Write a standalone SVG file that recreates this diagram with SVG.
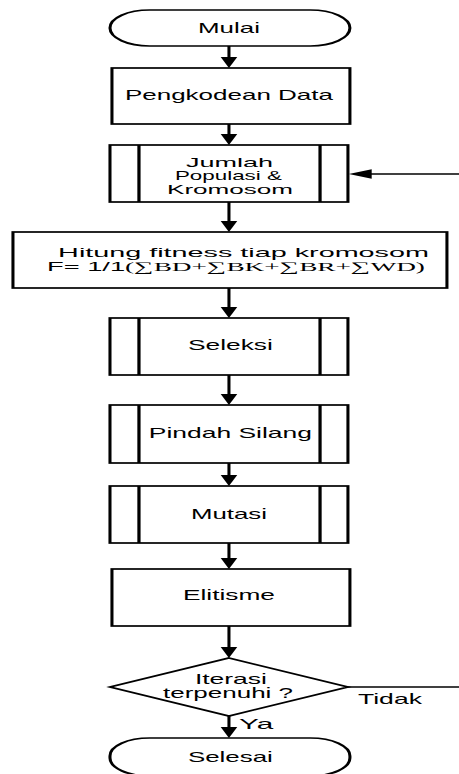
<svg xmlns="http://www.w3.org/2000/svg" xmlns:xlink="http://www.w3.org/1999/xlink" width="459" height="774" viewBox="0 0 459 774">
  <style>
    .shape { fill: #ffffff; stroke: #000000; stroke-width: 1.7; }
    .inner { fill: none; stroke: #000000; stroke-width: 1.8; }
    .shaft { fill: none; stroke: #000000; stroke-width: 1.7; }
    .thin { fill: none; stroke: #000000; stroke-width: 1.4; }
    .head { fill: #000000; stroke: none; }
    .lbl { font-family: "Liberation Sans", Arial, sans-serif; font-size: 14px; fill: #000000; text-anchor: middle; }
    .sm { font-size: 13px; }
    .math { font-family: "Liberation Serif", "DejaVu Serif", serif; }
  </style>
  <defs>
    <path id="hd" class="head" d="M-4.6,-11 L4.6,-11 L0,0 Z"/>
  </defs>
  <rect width="459" height="774" fill="#ffffff"/>
  <!-- The flowchart is drawn in a horizontally stretched frame (x * 1.8) -->
  <g transform="scale(1.8 1)">
    <g id="connectors">
      <line class="shaft" x1="127.2" y1="46" x2="127.2" y2="58"/>
      <use xlink:href="#hd" x="127.2" y="68"/>
      <line class="shaft" x1="127.2" y1="124" x2="127.2" y2="135"/>
      <use xlink:href="#hd" x="127.2" y="145"/>
      <line class="shaft" x1="127.2" y1="202" x2="127.2" y2="222"/>
      <use xlink:href="#hd" x="127.2" y="232"/>
      <line class="shaft" x1="127.2" y1="288" x2="127.2" y2="308"/>
      <use xlink:href="#hd" x="127.2" y="318"/>
      <line class="shaft" x1="127.2" y1="375" x2="127.2" y2="395"/>
      <use xlink:href="#hd" x="127.2" y="405"/>
      <line class="shaft" x1="127.2" y1="463" x2="127.2" y2="476"/>
      <use xlink:href="#hd" x="127.2" y="486"/>
      <line class="shaft" x1="127.2" y1="543" x2="127.2" y2="559"/>
      <use xlink:href="#hd" x="127.2" y="569"/>
      <line class="shaft" x1="127.2" y1="626" x2="127.2" y2="648"/>
      <use xlink:href="#hd" x="127.2" y="658"/>
      <line class="shaft" x1="127.2" y1="716" x2="127.2" y2="728"/>
      <use xlink:href="#hd" x="127.2" y="738"/>
      <!-- loop back: "Tidak" branch returns to population step -->
      <line class="thin" x1="193.3" y1="687" x2="255" y2="687"/>
      <line class="thin" x1="205" y1="174" x2="255" y2="174"/>
      <polygon class="head" points="193.8,174 206.5,169.3 206.5,178.7"/>
      <text class="lbl" x="132.8" y="729" textLength="19" lengthAdjust="spacingAndGlyphs" style="text-anchor:start">Ya</text>
      <text class="lbl" x="198.9" y="704" textLength="35.5" lengthAdjust="spacingAndGlyphs" style="text-anchor:start">Tidak</text>
    </g>

    <g id="mulai">
      <rect class="shape" x="61.1" y="10" width="133.3" height="36" rx="22" ry="18"/>
      <text class="lbl" x="127.2" y="33" textLength="34.4" lengthAdjust="spacingAndGlyphs">Mulai</text>
    </g>

    <g id="pengkodean">
      <rect class="shape" x="62.2" y="68" width="132.2" height="56"/>
      <text class="lbl" x="127.2" y="100" textLength="115.6" lengthAdjust="spacingAndGlyphs">Pengkodean Data</text>
    </g>

    <g id="populasi">
      <rect class="shape" x="61.1" y="145" width="132.2" height="57"/>
      <line class="inner" x1="77.2" y1="145" x2="77.2" y2="202"/>
      <line class="inner" x1="177.8" y1="145" x2="177.8" y2="202"/>
      <text class="lbl sm" x="127.5" y="167" textLength="48.3" lengthAdjust="spacingAndGlyphs">Jumlah</text>
      <text class="lbl sm" x="126.9" y="180.5" textLength="59.4" lengthAdjust="spacingAndGlyphs">Populasi &amp;</text>
      <text class="lbl sm" x="127.8" y="194" textLength="70" lengthAdjust="spacingAndGlyphs">Kromosom</text>
    </g>

    <g id="fitness">
      <rect class="shape" x="7.2" y="232" width="241.1" height="56"/>
      <text class="lbl sm" x="135.3" y="257" textLength="206" lengthAdjust="spacingAndGlyphs">Hitung fitness tiap kromosom</text>
      <text class="lbl sm" x="131.1" y="271" textLength="210" lengthAdjust="spacingAndGlyphs">F= 1/1<tspan class="math">(∑BD+∑BK+∑BR+∑WD)</tspan></text>
    </g>

    <g id="seleksi">
      <rect class="shape" x="61.1" y="318" width="132.2" height="57"/>
      <line class="inner" x1="77.2" y1="318" x2="77.2" y2="375"/>
      <line class="inner" x1="177.8" y1="318" x2="177.8" y2="375"/>
      <text class="lbl" x="128" y="350" textLength="47.2" lengthAdjust="spacingAndGlyphs">Seleksi</text>
    </g>

    <g id="pindah-silang">
      <rect class="shape" x="61.1" y="405" width="132.2" height="58"/>
      <line class="inner" x1="77.2" y1="405" x2="77.2" y2="463"/>
      <line class="inner" x1="177.8" y1="405" x2="177.8" y2="463"/>
      <text class="lbl" x="128" y="438" textLength="90.6" lengthAdjust="spacingAndGlyphs">Pindah Silang</text>
    </g>

    <g id="mutasi">
      <rect class="shape" x="61.1" y="486" width="132.2" height="57"/>
      <line class="inner" x1="77.2" y1="486" x2="77.2" y2="543"/>
      <line class="inner" x1="177.8" y1="486" x2="177.8" y2="543"/>
      <text class="lbl" x="127.2" y="519" textLength="42.2" lengthAdjust="spacingAndGlyphs">Mutasi</text>
    </g>

    <g id="elitisme">
      <rect class="shape" x="62.2" y="569" width="132.2" height="57"/>
      <text class="lbl" x="127.2" y="600" textLength="51.1" lengthAdjust="spacingAndGlyphs">Elitisme</text>
    </g>

    <g id="iterasi">
      <polygon class="shape" points="127.2,658 193.3,687 127.2,716 61.1,687"/>
      <text class="lbl" x="128.3" y="684" textLength="40" lengthAdjust="spacingAndGlyphs">Iterasi</text>
      <text class="lbl" x="126.7" y="698" textLength="72.2" lengthAdjust="spacingAndGlyphs">terpenuhi ?</text>
    </g>

    <g id="selesai">
      <rect class="shape" x="61.1" y="738" width="133.3" height="38" rx="22" ry="18"/>
      <text class="lbl" x="128" y="762" textLength="47.2" lengthAdjust="spacingAndGlyphs">Selesai</text>
    </g>
  </g>
</svg>
